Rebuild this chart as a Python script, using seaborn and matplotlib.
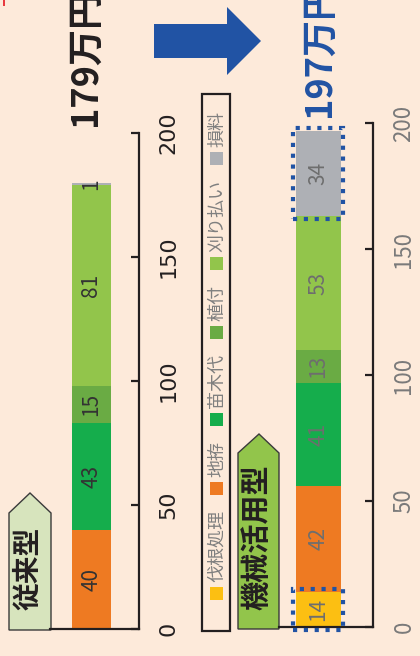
import matplotlib
matplotlib.use("Agg")
import matplotlib.pyplot as plt
from matplotlib.patches import Polygon, Rectangle
import numpy as np
import pandas as pd
import seaborn as sns

# cost breakdown (万円 per ha)
items = ["伐根処理", "地拵", "苗木代", "植付", "刈り払い", "損料"]
colors = ["#fcbf12", "#ee7a22", "#15ad4c", "#6aab44", "#92c54b", "#aeb0b5"]
conventional = [0, 40, 43, 15, 81, 1]
mechanized = [14, 42, 41, 13, 53, 34]
groups = ["従来型", "機械活用型"]
totals = ["179万円", "197万円"]
y_ticks = [0, 50, 100, 150, 200]

W, H = 420, 656
BG = "#fdeada"
INK = "#231f20"
BLUE = "#2153a4"

sns.set_theme(style="white", rc={"axes.facecolor": "none", "figure.facecolor": BG})
plt.rcParams["font.family"] = ["Noto Sans CJK JP", "DejaVu Sans"]

fig = plt.figure(figsize=(W / 100, H / 100), dpi=100, facecolor=BG)

# overlay in pixel units (origin top-left) for decorations
deco = fig.add_axes([0, 0, 1, 1], zorder=0)
deco.set_xlim(0, W)
deco.set_ylim(H, 0)
deco.axis("off")
deco.patch.set_visible(False)


def px_axes(left, right, top, bottom):
    return fig.add_axes([left / W, 1 - bottom / H, (right - left) / W, (bottom - top) / H], zorder=2)


def draw_panel(ax, group, values, bar_w, x0, label_color, tick_color, tick_font, tick_size):
    bottoms = np.concatenate([[0], np.cumsum(values)[:-1]])
    for v, b, c in zip(values, bottoms, colors):
        if v == 0:
            continue
        seg = pd.DataFrame({"group": [group], "cost": [v]})
        sns.barplot(data=seg, x="group", y="cost", bottom=b, color=c, saturation=1,
                    width=bar_w, errorbar=None, linewidth=0, ax=ax)
        ax.text(0, b + v / 2, str(v), rotation=90, ha="center", va="center",
                fontsize=15, color=label_color)
    ax.set_xlim(x0, x0 + 1)
    ax.set_ylim(0, 200)
    ax.set_xticks([])
    ax.set_xlabel("")
    ax.set_ylabel("")
    for s in ["top", "left"]:
        ax.spines[s].set_visible(False)
    for s in ["right", "bottom"]:
        ax.spines[s].set_color(INK)
        ax.spines[s].set_linewidth(1.6)
    ax.yaxis.tick_right()
    ax.set_yticks(y_ticks)
    ax.tick_params(axis="y", direction="in", length=5.5, width=1.6, color=INK,
                   pad=14, labelsize=tick_size, labelcolor=tick_color,
                   labelrotation=90, right=True, left=False)
    for lbl in ax.get_yticklabels():
        lbl.set_va("center")
        lbl.set_fontfamily(tick_font)
    return bottoms


# panel: conventional
ax1 = px_axes(50, 139, 133, 629)
draw_panel(ax1, groups[0], conventional, 0.438, -0.466, "#333333", INK, "DejaVu Sans", 16)

# panel: mechanized
ax2 = px_axes(279, 373, 123, 627)
b2 = draw_panel(ax2, groups[1], mechanized, 0.479, -0.420, "#6e6e6e", "#7a7a7a", "Noto Sans CJK JP", 16)

# dotted frames around the changed cost items
for idx in [0, 5]:
    w = 0.479
    padx, pady = 2.5 / 94, 3 * 200 / 504
    r = Rectangle((-w / 2 - padx, b2[idx] - pady), w + 2 * padx, mechanized[idx] + 2 * pady,
                  fill=False, edgecolor=BLUE, linewidth=3, linestyle=(0, (1, 1.6)),
                  clip_on=False, zorder=5)
    ax2.add_patch(r)

# totals
deco.text(85, 126, totals[0], rotation=90, ha="center", va="bottom",
          fontsize=26, fontweight="bold", color=INK)
deco.text(319, 117, totals[1], rotation=90, ha="center", va="bottom",
          fontsize=26, fontweight="bold", color=BLUE)

# arrow between the two totals
deco.add_patch(Polygon([(154, 24), (227, 24), (227, 7), (261, 41), (227, 75), (227, 58), (154, 58)],
                       closed=True, facecolor=BLUE, edgecolor="none"))

# group tags
deco.add_patch(Polygon([(9, 630), (9, 513), (30, 493), (51, 513), (51, 630)], closed=True,
                       facecolor="#d7e4bd", edgecolor="#3a3a3a", linewidth=1))
deco.text(28, 568, groups[0], rotation=90, ha="center", va="center",
          fontsize=20, fontweight="bold", color=INK)
deco.add_patch(Polygon([(238, 629), (238, 453), (259, 434), (279, 453), (279, 629)], closed=True,
                       facecolor="#92c54b", edgecolor="#3a3a3a", linewidth=1))
deco.text(256, 537, groups[1], rotation=90, ha="center", va="center",
          fontsize=21, fontweight="bold", color=INK)

# legend box, items stacked upward
deco.add_patch(Rectangle((202, 94), 28, 537, fill=False, edgecolor=INK, linewidth=1.6))
renderer = fig.canvas.get_renderer()
y_cur = 600
for name, c in zip(items, colors):
    deco.add_patch(Rectangle((210, y_cur - 13), 13, 13, facecolor=c, edgecolor="none"))
    y_cur -= 13 + 5
    t = deco.text(217, y_cur, name, rotation=90, ha="center", va="bottom",
                  fontsize=13, color="#7f7f7f")
    ext = t.get_window_extent(renderer=renderer)
    y_cur -= ext.height + 15

# small red mark at the corner
deco.add_patch(Rectangle((3, 0), 2, 6, facecolor="#e8393f", edgecolor="none"))

fig.savefig("out.png", dpi=100, facecolor=BG)
